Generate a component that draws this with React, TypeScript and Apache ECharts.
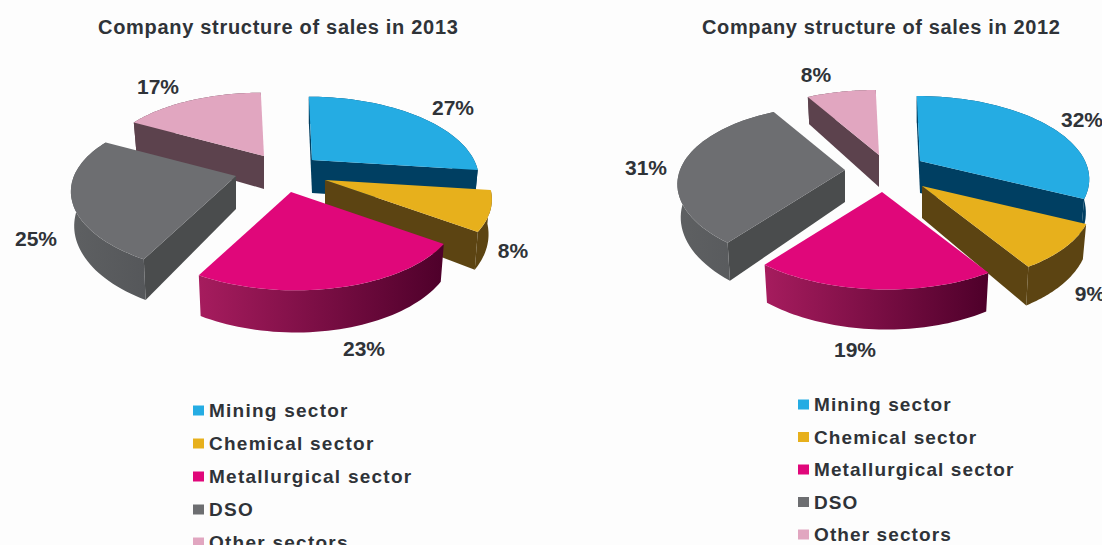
import React, { useEffect, useRef } from "react";
import * as echarts from "echarts";

// Sales shares per sector, in percent.
const sectors = ["Mining sector", "Chemical sector", "Metallurgical sector", "DSO", "Other sectors"];
const sales2013 = [27, 8, 23, 25, 17];
const sales2012 = [32, 9, 19, 31, 8];
const titles = ["Company structure of sales in 2013", "Company structure of sales in 2012"];

const topColours = ["#25ace3", "#e7b01c", "#e0077a", "#6d6e71", "#e1a6c0"];
const sideColours = ["#003f62", "#5c4412", "#5a0030", "#4a4c4d", "#5c424d"];
const rimColours: [string, string][] = [
  ["#003f62", "#003f62"],
  ["#5c4412", "#5c4412"],
  ["#a61c5e", "#4e002a"],
  ["#5e6062", "#55575a"],
  ["#5c424d", "#5c424d"],
];

// Paint order per slice, back to front: Other, Mining, DSO, Chemical, Metallurgical.
const paintOrder = [1, 3, 4, 2, 0];
const TEXT = "#2f3338";
const FONT = '"Liberation Sans", Arial, sans-serif';

interface PieLayout {
  values: number[];
  radiusX: number;
  radiusY: number;
  tilt: number;
  depth: number;
  apexes: [number, number][];
  labels: [number, number][];
}

const pie2013: PieLayout = {
  values: sales2013,
  radiusX: 162,
  radiusY: 77,
  tilt: 0.217,
  depth: 33,
  apexes: [[312, 160], [325, 180], [291, 192], [236, 176], [264, 156]],
  labels: [[453, 107], [513, 250], [364, 348], [36, 238], [158, 86]],
};

const pie2012: PieLayout = {
  values: sales2012,
  radiusX: 165,
  radiusY: 78,
  tilt: 0.2,
  depth: 32,
  apexes: [[920, 161], [922, 186], [882, 192], [845, 170], [879, 155]],
  labels: [[1082, 119], [1090, 293], [855, 349], [646, 167], [816, 74]],
};

// Perspective projection of a rim point of the tilted disc, relative to the slice apex.
function rimPoint(pie: PieLayout, angle: number) {
  const X = Math.sin(angle);
  const Y = -Math.cos(angle);
  const d = 1 - pie.tilt * Y;
  const y = (pie.radiusY * Y) / d;
  const x = (pie.radiusX * X) / d + y * 0.05;
  return { x, y, drop: pie.depth / d };
}

function renderSlice(pie: PieLayout, sliceIndex: number) {
  return (_params: unknown, api: any) => {
    const before = api.value(0);
    const value = api.value(1);
    const total = api.value(2);
    const a0 = (before / total) * Math.PI * 2;
    const a1 = ((before + value) / total) * Math.PI * 2;
    const [ax, ay] = pie.apexes[sliceIndex];
    const steps = 48;
    const top: number[][] = [];
    const bottom: number[][] = [];
    for (let i = 0; i <= steps; i++) {
      const p = rimPoint(pie, a0 + ((a1 - a0) * i) / steps);
      top.push([ax + p.x, ay + p.y]);
      bottom.push([ax + p.x * 0.98, ay + p.y + p.drop]);
    }
    const apexBottom = [ax, ay + pie.depth];
    const mid = top[steps >> 1];

    // A radial wall shows only when its outward side turns towards the viewer.
    const wall = (rim: number[], rimBottom: number[]) => {
      const ex = rim[0] - ax;
      const ey = rim[1] - ay;
      let nx = -ey;
      let ny = ex;
      if (nx * (mid[0] - ax) + ny * (mid[1] - ay) > 0) {
        nx = -nx;
        ny = -ny;
      }
      if (ny <= 0) return null;
      return {
        type: "polygon",
        shape: { points: [[ax, ay], rim, rimBottom, apexBottom] },
        style: { fill: sideColours[sliceIndex] },
      };
    };

    const children: any[] = [];
    const w0 = wall(top[0], bottom[0]);
    const w1 = wall(top[steps], bottom[steps]);
    if (w0) children.push(w0);
    if (w1) children.push(w1);
    children.push({
      type: "polygon",
      shape: { points: top.concat(bottom.slice().reverse()) },
      style: {
        fill: new echarts.graphic.LinearGradient(0, 0, 1, 0, [
          { offset: 0, color: rimColours[sliceIndex][0] },
          { offset: 1, color: rimColours[sliceIndex][1] },
        ]),
      },
    });
    children.push({
      type: "polygon",
      shape: { points: [[ax, ay], ...top] },
      style: { fill: topColours[sliceIndex] },
    });
    children.push({
      type: "text",
      style: {
        text: `${value}%`,
        x: pie.labels[sliceIndex][0],
        y: pie.labels[sliceIndex][1],
        align: "center",
        verticalAlign: "middle",
        fill: TEXT,
        font: `bold 21px ${FONT}`,
      },
    });
    return { type: "group", children };
  };
}

function pieSeries(pie: PieLayout, group: number) {
  const total = pie.values.reduce((s, v) => s + v, 0);
  return sectors.map((name, i) => {
    const before = pie.values.slice(0, i).reduce((s, v) => s + v, 0);
    return {
      type: "custom",
      name,
      coordinateSystem: "none",
      silent: true,
      z: 2 + paintOrder[i] + group * 10,
      itemStyle: { color: topColours[i] },
      renderItem: renderSlice(pie, i),
      data: [[before, pie.values[i], total]],
    };
  });
}

function legendAt(left: number, top: number, itemGap: number) {
  return {
    orient: "vertical",
    left,
    top,
    height: 220,
    padding: 0,
    itemGap,
    itemWidth: 11,
    itemHeight: 10,
    icon: "rect",
    selectedMode: false,
    data: sectors,
    textStyle: { color: TEXT, fontFamily: FONT, fontWeight: "bold", fontSize: 19 },
  };
}

function titleAt(text: string, left: number) {
  return {
    text,
    left,
    top: 17,
    padding: 0,
    textStyle: { color: TEXT, fontFamily: FONT, fontWeight: "bold", fontSize: 20 },
  };
}

// The headings and legend entries are set with open tracking, which ECharts has no option for.
function applyTracking(root: HTMLElement) {
  root.querySelectorAll("text").forEach((node) => {
    const label = node.textContent || "";
    const onLeft = node.getBoundingClientRect().left < 550;
    if (titles.includes(label)) {
      node.style.letterSpacing = onLeft ? "0.7px" : "0.64px";
    } else if (sectors.includes(label)) {
      node.style.letterSpacing = onLeft ? "1.25px" : "1.1px";
    }
  });
}

export default function App() {
  const ref = useRef<HTMLDivElement>(null);
  useEffect(() => {
    document.body.style.margin = "0";
    const chart = echarts.init(ref.current!, null, { renderer: "svg" });
    chart.setOption({
      animation: false,
      backgroundColor: "#fdfdfd",
      title: [titleAt(titles[0], 98), titleAt(titles[1], 702)],
      legend: [legendAt(193, 401, 14), legendAt(798, 395, 13.5)],
      series: [...pieSeries(pie2013, 0), ...pieSeries(pie2012, 1)],
    });
    applyTracking(ref.current!);
    return () => chart.dispose();
  }, []);
  return <div ref={ref} style={{ width: 1102, height: 545 }} />;
}
